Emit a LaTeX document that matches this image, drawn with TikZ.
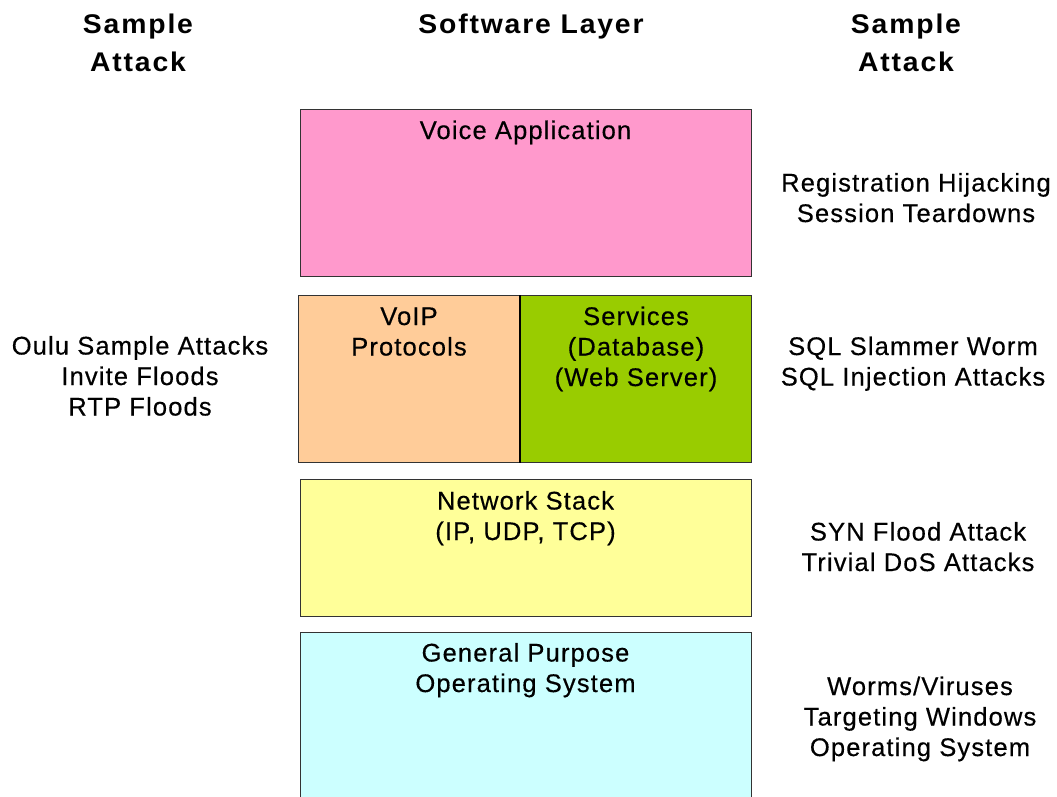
\documentclass[tikz,border=0pt]{standalone}
\usepackage{fontspec}
\setmainfont{Liberation Sans}
\newfontfamily\bodyfont{Liberation Sans}[LetterSpace=4.5,FakeBold=0.4]
\newfontfamily\headfont{Liberation Sans}[FakeStretch=1.05,LetterSpace=6.8]
\definecolor{vapink}{HTML}{FF99CC}
\definecolor{vpeach}{HTML}{FFCC99}
\definecolor{svgreen}{HTML}{99CC00}
\definecolor{nsyellow}{HTML}{FFFF99}
\definecolor{oscyan}{HTML}{CCFFFF}
\definecolor{edge}{HTML}{333333}
\begin{document}
\begin{tikzpicture}[x=1pt,y=-1pt,
  layer/.style={draw=edge, line width=1.3pt, rectangle, inner sep=0pt, anchor=north west},
  bodytxt/.style={font=\bodyfont\fontsize{25.5}{30.5}\selectfont, align=center, inner sep=0pt, anchor=base},
  headtxt/.style={font=\headfont\bfseries\fontsize{27}{38}\selectfont, align=center, inner sep=0pt, anchor=base}]
\useasboundingbox[fill=white] (0,0) rectangle (1057,796);
% boxes
\node[layer, fill=vapink, minimum width=451pt, minimum height=167pt] (voice) at (300,109) {};
\node[layer, fill=vpeach, minimum width=222pt, minimum height=167pt] (voip) at (298,295) {};
\node[layer, fill=svgreen, minimum width=231pt, minimum height=167pt] (serv) at (520,295) {};
\node[layer, fill=nsyellow, minimum width=451pt, minimum height=137pt] (net) at (300,479) {};
\node[layer, fill=oscyan, minimum width=451pt, minimum height=180pt] (os) at (300,632) {};
\draw[black, line width=2pt] (serv.north west) -- (serv.south west);
% headers (anchor = baseline of last line)
\node[headtxt] (hl) at (138,71) {Sample\\Attack};
\node[headtxt] (hm) at (531,33) {Software Layer};
\node[headtxt] (hr) at (906,71) {Sample\\Attack};
% box texts
\node[bodytxt] (voicet) at (525.5,139) {Voice Application};
\node[bodytxt] (voipt) at (409,355.5) {VoIP\\Protocols};
\node[bodytxt] (servt) at (636,386) {Services\\(Database)\\(Web Server)};
\node[bodytxt] (nett) at (525.5,540) {Network Stack\\(IP, UDP, TCP)};
\node[bodytxt] (ost) at (525.5,692) {General Purpose\\Operating System};
% attacks
\node[bodytxt] (left) at (140,415.5) {Oulu Sample Attacks\\Invite Floods\\RTP Floods};
\node[bodytxt] (reg) at (916,222) {Registration Hijacking\\Session Teardowns};
\node[bodytxt] (sql) at (913,385.5) {SQL Slammer Worm\\SQL Injection Attacks};
\node[bodytxt] (syn) at (918,571) {SYN Flood Attack\\Trivial DoS Attacks};
\node[bodytxt] (worm) at (920,756) {Worms/Viruses\\Targeting Windows\\Operating System};
\end{tikzpicture}
\end{document}
